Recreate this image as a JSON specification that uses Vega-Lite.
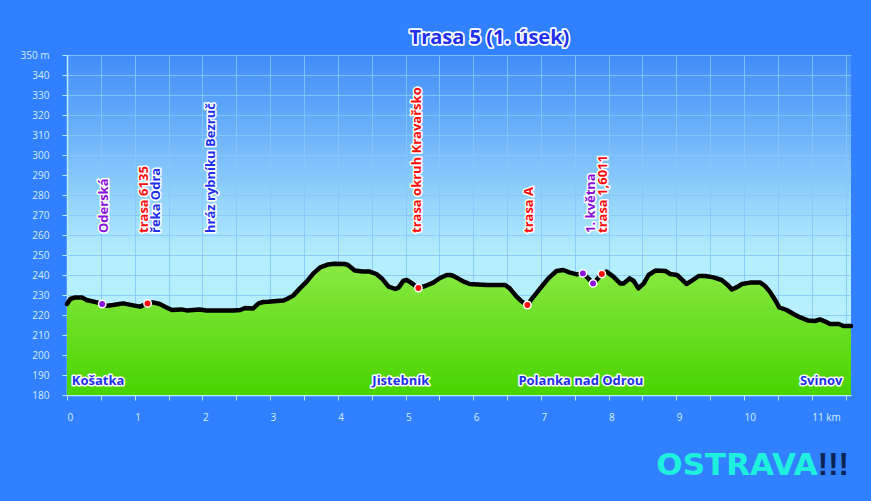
{
  "$schema": "https://vega.github.io/schema/vega-lite/v6.json",
  "width": 784,
  "height": 340,
  "autosize": {"type": "none"},
  "padding": {"left": 67, "top": 55, "right": 20, "bottom": 106},
  "background": "#3080ff",
  "config": {
    "font": "Open Sans",
    "view": {
      "stroke": null,
      "fill": {
        "gradient": "linear", "x1": 0, "y1": 0, "x2": 0, "y2": 1,
        "stops": [
          {"offset": 0, "color": "#408df8"},
          {"offset": 0.59, "color": "#b4eefc"},
          {"offset": 1, "color": "#bcf3fd"}
        ]
      }
    },
    "axis": {
      "title": null,
      "labelFont": "Open Sans",
      "labelFontSize": 10,
      "labelColor": "#d6ecff",
      "tickColor": "#b8ecff",
      "tickSize": 5,
      "tickCount": 50,
      "domainColor": "#b8ecff",
      "domainWidth": 1.5,
      "gridColor": "#84c8fa",
      "gridOpacity": 0.85,
      "gridWidth": 1,
      "labelOverlap": false,
      "labelFlush": false
    }
  },
  "datasets": {
    "profile": [
      {"km": 0.00, "elev": 225.5}, {"km": 0.05, "elev": 228}, {"km": 0.12, "elev": 228.8},
      {"km": 0.22, "elev": 228.8}, {"km": 0.29, "elev": 227.5}, {"km": 0.44, "elev": 226.3},
      {"km": 0.52, "elev": 225.5}, {"km": 0.59, "elev": 224.6}, {"km": 0.68, "elev": 225},
      {"km": 0.83, "elev": 225.8}, {"km": 0.98, "elev": 224.8}, {"km": 1.08, "elev": 224.2},
      {"km": 1.19, "elev": 225.8}, {"km": 1.27, "elev": 226.3}, {"km": 1.37, "elev": 225.5},
      {"km": 1.47, "elev": 223.8}, {"km": 1.55, "elev": 222.5}, {"km": 1.69, "elev": 222.8},
      {"km": 1.77, "elev": 222.3}, {"km": 1.96, "elev": 222.7}, {"km": 2.06, "elev": 222.3},
      {"km": 2.46, "elev": 222.3}, {"km": 2.56, "elev": 222.5}, {"km": 2.63, "elev": 223.5},
      {"km": 2.75, "elev": 223.3}, {"km": 2.83, "elev": 225.8}, {"km": 2.90, "elev": 226.5},
      {"km": 2.97, "elev": 226.6}, {"km": 3.10, "elev": 227}, {"km": 3.20, "elev": 227.3},
      {"km": 3.25, "elev": 228}, {"km": 3.34, "elev": 229.7}, {"km": 3.44, "elev": 233.3},
      {"km": 3.54, "elev": 236.7}, {"km": 3.64, "elev": 240.8}, {"km": 3.74, "elev": 243.8},
      {"km": 3.86, "elev": 245.3}, {"km": 3.95, "elev": 245.6}, {"km": 4.10, "elev": 245.5},
      {"km": 4.15, "elev": 245}, {"km": 4.25, "elev": 242.2}, {"km": 4.37, "elev": 241.7},
      {"km": 4.47, "elev": 241.7}, {"km": 4.57, "elev": 240.5}, {"km": 4.65, "elev": 238.3},
      {"km": 4.75, "elev": 234.2}, {"km": 4.85, "elev": 233}, {"km": 4.90, "elev": 233.8},
      {"km": 4.97, "elev": 237.2}, {"km": 5.02, "elev": 237.5}, {"km": 5.08, "elev": 236.2},
      {"km": 5.19, "elev": 233.5}, {"km": 5.29, "elev": 234.5}, {"km": 5.41, "elev": 236.2},
      {"km": 5.51, "elev": 238.5}, {"km": 5.61, "elev": 240}, {"km": 5.66, "elev": 240},
      {"km": 5.71, "elev": 239.5}, {"km": 5.86, "elev": 236.7}, {"km": 5.95, "elev": 235.5},
      {"km": 6.20, "elev": 235}, {"km": 6.47, "elev": 235}, {"km": 6.54, "elev": 233.3},
      {"km": 6.64, "elev": 229.2}, {"km": 6.72, "elev": 226.7}, {"km": 6.80, "elev": 225},
      {"km": 6.86, "elev": 227.8}, {"km": 6.99, "elev": 233.3}, {"km": 7.11, "elev": 238.3},
      {"km": 7.23, "elev": 242}, {"km": 7.33, "elev": 242.5}, {"km": 7.43, "elev": 241.2},
      {"km": 7.53, "elev": 240.3}, {"km": 7.62, "elev": 240.8}, {"km": 7.70, "elev": 238.3},
      {"km": 7.77, "elev": 235.8}, {"km": 7.82, "elev": 237.5}, {"km": 7.90, "elev": 240.5},
      {"km": 7.97, "elev": 241.7}, {"km": 8.07, "elev": 239.2}, {"km": 8.17, "elev": 235.8},
      {"km": 8.22, "elev": 235.8}, {"km": 8.31, "elev": 238.3}, {"km": 8.37, "elev": 237},
      {"km": 8.44, "elev": 233.3}, {"km": 8.52, "elev": 235.8}, {"km": 8.59, "elev": 240},
      {"km": 8.69, "elev": 242.2}, {"km": 8.84, "elev": 242}, {"km": 8.91, "elev": 240.5},
      {"km": 9.01, "elev": 240}, {"km": 9.10, "elev": 237.2}, {"km": 9.15, "elev": 235.5},
      {"km": 9.23, "elev": 237.2}, {"km": 9.33, "elev": 239.5}, {"km": 9.43, "elev": 239.5},
      {"km": 9.55, "elev": 238.8}, {"km": 9.67, "elev": 237.5}, {"km": 9.75, "elev": 235.3},
      {"km": 9.82, "elev": 232.8}, {"km": 9.89, "elev": 233.8}, {"km": 9.97, "elev": 235.5},
      {"km": 10.09, "elev": 236.2}, {"km": 10.24, "elev": 236.2}, {"km": 10.31, "elev": 234.5},
      {"km": 10.38, "elev": 231.7}, {"km": 10.46, "elev": 227.5}, {"km": 10.52, "elev": 223.8},
      {"km": 10.63, "elev": 222.5}, {"km": 10.73, "elev": 220.5}, {"km": 10.83, "elev": 218.8},
      {"km": 10.95, "elev": 217.2}, {"km": 11.05, "elev": 217}, {"km": 11.12, "elev": 217.8},
      {"km": 11.20, "elev": 216.7}, {"km": 11.27, "elev": 215.5}, {"km": 11.40, "elev": 215.5},
      {"km": 11.47, "elev": 214.5}, {"km": 11.58, "elev": 214.5}
    ],
    "points": [
      {"km": 0.52, "elev": 225.5, "kind": "ulice"},
      {"km": 1.19, "elev": 225.8, "kind": "trasa"},
      {"km": 5.19, "elev": 233.5, "kind": "trasa"},
      {"km": 6.80, "elev": 225, "kind": "trasa"},
      {"km": 7.62, "elev": 240.8, "kind": "ulice"},
      {"km": 7.77, "elev": 235.8, "kind": "ulice"},
      {"km": 7.90, "elev": 240.5, "kind": "trasa"}
    ],
    "labels": [
      {"km": 0.55, "text": "Oderská", "kind": "ulice"},
      {"km": 1.14, "text": "trasa 6135", "kind": "trasa"},
      {"km": 1.32, "text": "řeka Odra", "kind": "voda"},
      {"km": 2.12, "text": "hráz rybníku Bezruč", "kind": "voda"},
      {"km": 5.17, "text": "trasa okruh Kravařsko", "kind": "trasa"},
      {"km": 6.82, "text": "trasa A", "kind": "trasa"},
      {"km": 7.74, "text": "1. května", "kind": "ulice"},
      {"km": 7.91, "text": "trasa 1,6011", "kind": "trasa"}
    ],
    "places": [
      {"km": 0.46, "name": "Košatka"},
      {"km": 4.93, "name": "Jistebník"},
      {"km": 7.59, "name": "Polanka nad Odrou"},
      {"km": 11.14, "name": "Svinov"}
    ]
  },
  "layer": [
    {
      "data": {"name": "profile"},
      "mark": {
        "type": "area",
        "color": {
          "gradient": "linear", "x1": 0, "y1": 0, "x2": 0, "y2": 1,
          "stops": [
            {"offset": 0, "color": "#8ae943"},
            {"offset": 1, "color": "#48d400"}
          ]
        }
      },
      "encoding": {
        "x": {
          "field": "km", "type": "quantitative",
          "scale": {"domain": [0, 11.58], "nice": false, "zero": false},
          "axis": {
            "values": [0, 0.5, 1, 1.5, 2, 2.5, 3, 3.5, 4, 4.5, 5, 5.5, 6, 6.5, 7, 7.5, 8, 8.5, 9, 9.5, 10, 10.5, 11, 11.5],
            "labelExpr": "datum.value % 1 != 0 ? '' : (datum.value == 11 ? '11 km' : '' + datum.value)",
            "labelAlign": "left",
            "labelPadding": 12
          }
        },
        "y": {
          "field": "elev", "type": "quantitative",
          "scale": {"domain": [180, 350], "nice": false, "zero": false},
          "axis": {
            "values": [180, 190, 200, 210, 220, 230, 240, 250, 260, 270, 280, 290, 300, 310, 320, 330, 340, 350],
            "labelExpr": "datum.value == 350 ? '350 m' : '' + datum.value",
            "labelPadding": 13
          }
        },
        "y2": {"datum": 180}
      }
    },
    {
      "data": {"name": "profile"},
      "mark": {"type": "line", "color": "#000000", "strokeWidth": 4.5, "strokeCap": "round", "strokeJoin": "round"},
      "encoding": {
        "x": {"field": "km", "type": "quantitative"},
        "y": {"field": "elev", "type": "quantitative"}
      }
    },
    {
      "data": {"name": "points"},
      "mark": {"type": "circle", "size": 55, "opacity": 1, "stroke": "#ffffff", "strokeWidth": 1.5},
      "encoding": {
        "x": {"field": "km", "type": "quantitative"},
        "y": {"field": "elev", "type": "quantitative"},
        "color": {
          "field": "kind", "type": "nominal",
          "scale": {"domain": ["ulice", "trasa", "voda"], "range": ["#8a10dc", "#ff0a0a", "#2030ec"]},
          "legend": null
        }
      }
    },
    {
      "data": {"name": "labels"},
      "mark": {"type": "text", "angle": 270, "align": "left", "baseline": "middle", "fontSize": 13, "fontWeight": "bold", "color": "#ffffff", "stroke": "#ffffff", "strokeWidth": 3, "strokeJoin": "round"},
      "encoding": {
        "x": {"field": "km", "type": "quantitative"},
        "y": {"datum": 261},
        "text": {"field": "text"}
      }
    },
    {
      "data": {"name": "labels"},
      "mark": {"type": "text", "angle": 270, "align": "left", "baseline": "middle", "fontSize": 13, "fontWeight": "bold"},
      "encoding": {
        "x": {"field": "km", "type": "quantitative"},
        "y": {"datum": 261},
        "text": {"field": "text"},
        "color": {"field": "kind", "type": "nominal", "legend": null}
      }
    },
    {
      "data": {"name": "places"},
      "mark": {"type": "text", "align": "center", "baseline": "middle", "fontSize": 13, "fontWeight": "bold", "color": "#ffffff", "stroke": "#ffffff", "strokeWidth": 3, "strokeJoin": "round"},
      "encoding": {
        "x": {"field": "km", "type": "quantitative"},
        "y": {"datum": 187},
        "text": {"field": "name"}
      }
    },
    {
      "data": {"name": "places"},
      "mark": {"type": "text", "align": "center", "baseline": "middle", "fontSize": 13, "fontWeight": "bold", "color": "#2030ec"},
      "encoding": {
        "x": {"field": "km", "type": "quantitative"},
        "y": {"datum": 187},
        "text": {"field": "name"}
      }
    },
    {
      "data": {"values": [{"title": "Trasa 5 (1. úsek)"}]},
      "mark": {"type": "text", "align": "center", "baseline": "middle", "fontSize": 20, "fontWeight": "bold", "color": "#ffffff", "stroke": "#ffffff", "strokeWidth": 3.5, "strokeJoin": "round"},
      "encoding": {"x": {"datum": 6.24}, "y": {"datum": 358.5}, "text": {"field": "title"}}
    },
    {
      "data": {"values": [{"title": "Trasa 5 (1. úsek)"}]},
      "mark": {"type": "text", "align": "center", "baseline": "middle", "fontSize": 20, "fontWeight": "bold", "color": "#2030ec"},
      "encoding": {"x": {"datum": 6.24}, "y": {"datum": 358.5}, "text": {"field": "title"}}
    },
    {
      "data": {"values": [{"city": "OSTRAVA"}]},
      "mark": {"type": "text", "align": "right", "baseline": "alphabetic", "font": "DejaVu Sans", "fontSize": 31, "fontWeight": "bold", "color": "#1ff0de"},
      "encoding": {"x": {"datum": 11.09}, "y": {"datum": 140}, "text": {"field": "city"}}
    },
    {
      "data": {"values": [{"bang": "!!!"}]},
      "mark": {"type": "text", "align": "left", "baseline": "alphabetic", "font": "Liberation Sans", "fontSize": 31, "fontWeight": "bold", "color": "#0b2552"},
      "encoding": {"x": {"datum": 11.09}, "y": {"datum": 140}, "text": {"field": "bang"}}
    }
  ]
}
